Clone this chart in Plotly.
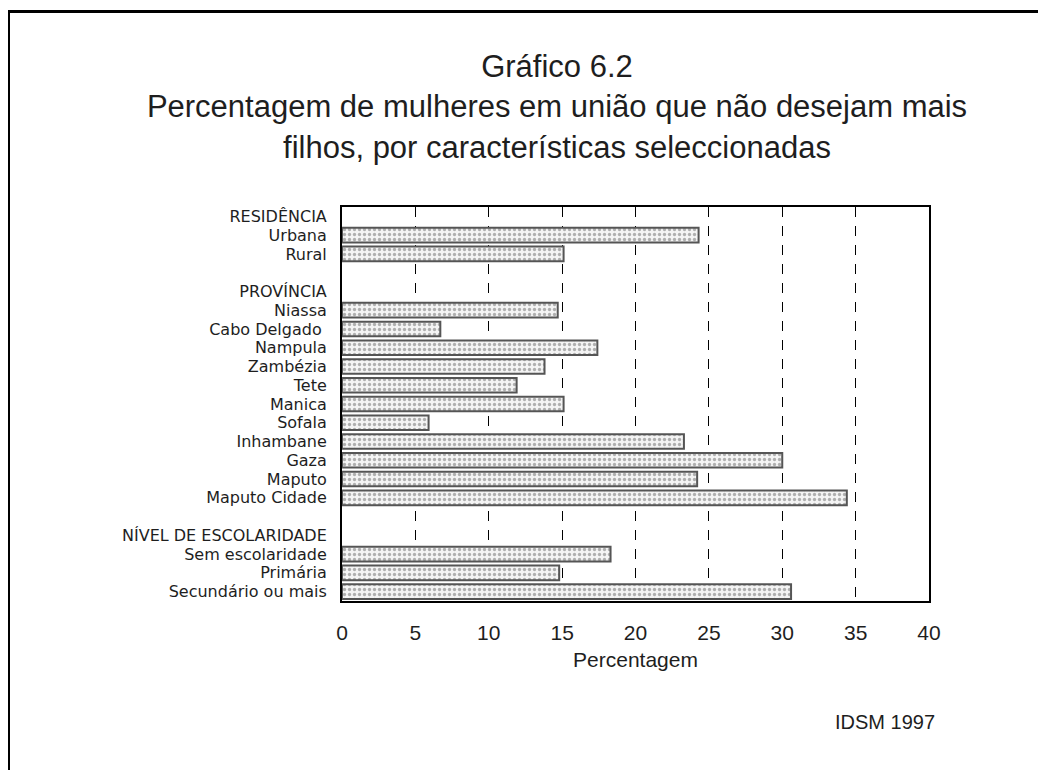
import plotly.graph_objects as go

labels = ["RESIDÊNCIA", "Urbana", "Rural", "",
          "PROVÍNCIA", "Niassa", "Cabo Delgado ", "Nampula", "Zambézia", "Tete",
          "Manica", "Sofala", "Inhambane", "Gaza", "Maputo", "Maputo Cidade", "",
          "NÍVEL DE ESCOLARIDADE", "Sem escolaridade", "Primária", "Secundário ou mais"]
values = [None, 24.3, 15.1, None,
          None, 14.7, 6.7, 17.4, 13.8, 11.9,
          15.1, 5.9, 23.3, 30.0, 24.2, 34.4, None,
          None, 18.3, 14.8, 30.6]
x_ticks = [0, 5, 10, 15, 20, 25, 30, 35, 40]

positions = list(range(len(labels)))
bx = [v for v in values if v is not None]
by = [p for p, v in zip(positions, values) if v is not None]

FONT = "Liberation Sans, Arial, sans-serif"
YFONT = "DejaVu Sans, Liberation Sans, sans-serif"
TXT = "#1e1e1e"

fig = go.Figure()
fig.add_trace(go.Bar(
    x=bx, y=by, orientation="h", width=0.78,
    marker=dict(color="#f2f2f2",
                line=dict(color="#555555", width=2),
                pattern=dict(shape=".", fgcolor="#6a6a6a", bgcolor="#f4f4f4",
                             size=5, solidity=0.35)),
    showlegend=False, hoverinfo="x+y",
))

W, H = 1046, 770
L, R, T, B = 334, 921, 199, 593

def px_x(p):
    return (p - L) / (R - L)

def px_y(p):
    return (B - p) / (B - T)

fig.update_layout(
    width=W, height=H,
    margin=dict(l=L, r=W - R, t=T, b=H - B),
    paper_bgcolor="white", plot_bgcolor="white",
    font=dict(family=FONT, color=TXT),
    title=dict(text="Gráfico 6.2<br>Percentagem de mulheres em união que não desejam mais<br>filhos, por características seleccionadas",
               x=px_x(549), xref="paper", xanchor="center",
               y=1 - 69 / H, yref="container", yanchor="middle",
               font=dict(size=31, family=FONT, color=TXT)),
    xaxis=dict(range=[0, 40], tickvals=x_ticks, ticks="", showline=True,
               linecolor="black", linewidth=2, mirror=True,
               showgrid=True, gridcolor="black", gridwidth=1, griddash="10px,9px",
               zeroline=False, ticklabelstandoff=12,
               tickfont=dict(size=21, family=FONT, color=TXT),
               title=dict(text="Percentagem", font=dict(size=21, family=FONT, color=TXT), standoff=9)),
    yaxis=dict(range=[len(labels) - 0.5, -0.5], tickvals=positions, ticktext=labels,
               ticks="", showline=True, linecolor="black", linewidth=2, mirror=True,
               showgrid=False, zeroline=False, ticklabelstandoff=10,
               tickfont=dict(size=16, family=YFONT, color=TXT)),
    shapes=[
        dict(type="line", xref="paper", yref="paper", x0=px_x(-2), x1=px_x(W + 5),
             y0=px_y(3.5), y1=px_y(3.5), line=dict(color="black", width=3)),
        dict(type="line", xref="paper", yref="paper", x0=px_x(0.5), x1=px_x(0.5),
             y0=px_y(2), y1=px_y(H + 5), line=dict(color="black", width=3)),
    ],
    annotations=[
        dict(text="IDSM 1997", xref="paper", yref="paper", x=px_x(929), y=px_y(714),
             xanchor="right", yanchor="middle", showarrow=False,
             font=dict(size=20, family=FONT, color=TXT)),
    ],
)

fig.write_html("out.html")
